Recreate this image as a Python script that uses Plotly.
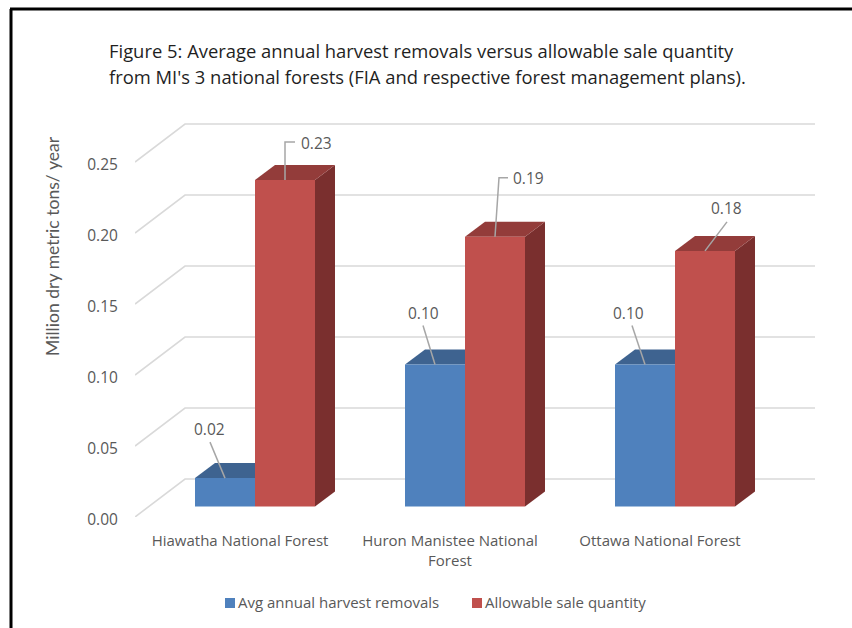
import plotly.graph_objects as go

# ---- data ----
categories = ["Hiawatha National Forest", "Huron Manistee National<br>Forest", "Ottawa National Forest"]
series_names = ["Avg annual harvest removals", "Allowable sale quantity"]
removals = [0.02, 0.10, 0.10]
allowable = [0.23, 0.19, 0.18]
y_ticks = [0.00, 0.05, 0.10, 0.15, 0.20, 0.25]

# ---- geometry (pixels on the 852x628 page) ----
W, H = 852, 628
L, R, T, B = 135, 815, 120, 517      # plot box
PX_CAT = 210.0                        # px per category
PX_UNIT = 1420.0                      # px per unit of value
BAR_W = 60 / PX_CAT
WALL_DX, WALL_DY = 50 / PX_CAT, 38 / PX_UNIT
BAR_SHIFT_X, BAR_BASE = 15 / PX_CAT, 10.5 / PX_UNIT
BAR_DX, BAR_DY = 20 / PX_CAT, 15 / PX_UNIT
x_range = [-0.5, -0.5 + (R - L) / PX_CAT]
y_range = [0, (B - T) / PX_UNIT]

BLUE, BLUE_TOP = "#4f81bd", "#3e6390"
RED, RED_TOP, RED_SIDE = "#c0504d", "#933c3a", "#7a2f2e"
GRID = "#d9d9d9"
TXT = "#595959"
FONT = "Open Sans"

# leader-line bends and label offsets, px relative to the bar's top-centre
leaders = {
    (0, 0): ([(-15, 36)], (-16, 49)),
    (1, 0): ([(0, 38), (10, 38)], (31, 37)),
    (0, 1): ([(-12, 39)], (-12, 52)),
    (1, 1): ([(4, 59), (13, 59)], (33, 59)),
    (0, 2): ([(-13, 39)], (-17, 52)),
    (1, 2): ([(22, 29)], (21, 43)),
}

fig = go.Figure()

def poly(xs, ys, color):
    fig.add_trace(go.Scatter(x=xs, y=ys, mode="lines", fill="toself", fillcolor=color,
                             line=dict(width=0, color=color), hoverinfo="skip", showlegend=False))

# walls
x_left = x_range[0]
x_right = x_left + len(categories)
for t in y_ticks:
    fig.add_trace(go.Scatter(x=[x_left, x_left + WALL_DX, x_right + WALL_DX],
                             y=[t, t + WALL_DY, t + WALL_DY], mode="lines",
                             line=dict(color=GRID, width=1.6), hoverinfo="skip", showlegend=False))

offsets = [-BAR_W / 2 + BAR_SHIFT_X, BAR_W / 2 + BAR_SHIFT_X]
series = [removals, allowable]

# top and side faces, behind the fronts
for s, vals in enumerate(series):
    top = BLUE_TOP if s == 0 else RED_TOP
    for i, v in enumerate(vals):
        cx = i + offsets[s]
        h = BAR_BASE + v
        if s == 1:
            poly([cx + BAR_W / 2, cx + BAR_W / 2 + BAR_DX, cx + BAR_W / 2 + BAR_DX, cx + BAR_W / 2],
                 [BAR_BASE, BAR_BASE + BAR_DY, h + BAR_DY, h], RED_SIDE)
        poly([cx - BAR_W / 2, cx + BAR_W / 2, cx + BAR_W / 2 + BAR_DX, cx - BAR_W / 2 + BAR_DX],
             [h, h, h + BAR_DY, h + BAR_DY], top)

# bar fronts on an overlaid pair of axes so they cover the faces behind them
for s, vals in enumerate(series):
    fig.add_trace(go.Bar(x=[i + offsets[s] for i in range(len(vals))], y=vals, base=BAR_BASE,
                         width=BAR_W, name=series_names[s], marker=dict(color=BLUE if s == 0 else RED, line=dict(width=0)),
                         xaxis="x2", yaxis="y2", showlegend=False))

# leader lines and labels
annotations = []
for (s, i), (bends, lab) in leaders.items():
    v = series[s][i]
    cx = i + offsets[s]
    h = BAR_BASE + v
    xs = [cx] + [cx + dx / PX_CAT for dx, _ in bends]
    ys = [h] + [h + dy / PX_UNIT for _, dy in bends]
    fig.add_trace(go.Scatter(x=xs, y=ys, mode="lines", line=dict(color="#a6a6a6", width=1.5),
                             xaxis="x2", yaxis="y2", hoverinfo="skip", showlegend=False))
    annotations.append(dict(x=cx + lab[0] / PX_CAT, y=h + lab[1] / PX_UNIT, xref="x2", yref="y2",
                            text=f"{v:.2f}", showarrow=False, xanchor="center", yanchor="middle",
                            font=dict(family=FONT, size=15.5, color=TXT)))

def px(x): return (x - L) / (R - L)
def py(y): return (B - y) / (B - T)

# title lines
TITLE1 = "Figure 5: Average annual harvest removals versus allowable sale quantity"
TITLE2 = "from MI's 3 national forests (FIA and respective forest management plans)."
for text, y in ((TITLE1, 50.5), (TITLE2, 77)):
    annotations.append(dict(x=px(107), y=py(y), xref="paper", yref="paper", text=text, showarrow=False,
                            xanchor="left", yanchor="middle", font=dict(family=FONT, size=18.4, color="#1f1f1f")))

# y-axis title
annotations.append(dict(x=px(53), y=py(246), xref="paper", yref="paper", text="Million dry metric tons/ year",
                        textangle=-90, showarrow=False, xanchor="center", yanchor="middle",
                        font=dict(family="Lato", size=17.6, color=TXT)))

# legend
shapes = []
for name, color, sq, tx in ((series_names[0], BLUE, 225, 236), (series_names[1], RED, 472, 483)):
    shapes.append(dict(type="rect", xref="paper", yref="paper", x0=px(sq), x1=px(sq + 10),
                       y0=py(608), y1=py(598), fillcolor=color, line=dict(width=0)))
    annotations.append(dict(x=px(tx), y=py(601.5), xref="paper", yref="paper", text=name, showarrow=False,
                            xanchor="left", yanchor="middle", font=dict(family=FONT, size=15, color=TXT)))

# black frame (left and top)
shapes.append(dict(type="line", xref="paper", yref="paper", x0=px(11), x1=px(11), y0=py(9), y1=py(628),
                   line=dict(color="#000000", width=3)))
shapes.append(dict(type="line", xref="paper", yref="paper", x0=px(10), x1=px(852), y0=py(9), y1=py(9),
                   line=dict(color="#000000", width=3)))

axis_off = dict(visible=False, fixedrange=True)
fig.update_layout(
    width=W, height=H, autosize=False,
    margin=dict(l=L, r=W - R, t=T, b=H - B, pad=0),
    paper_bgcolor="white", plot_bgcolor="white",
    barmode="overlay", showlegend=False,
    font=dict(family=FONT, color=TXT),
    annotations=annotations, shapes=shapes,
    xaxis=dict(range=x_range, tickmode="array", tickvals=list(range(len(categories))), ticktext=categories,
               showgrid=False, zeroline=False, showline=False, ticks="outside", ticklen=10,
               tickcolor="rgba(0,0,0,0)", tickfont=dict(family=FONT, size=15, color=TXT), fixedrange=True),
    yaxis=dict(range=y_range, tickmode="array", tickvals=y_ticks, tickformat=".2f",
               showgrid=False, zeroline=False, showline=False, ticks="outside", ticklen=13,
               ticklabelshift=3,
               tickcolor="rgba(0,0,0,0)", tickfont=dict(family=FONT, size=15.5, color=TXT), fixedrange=True),
    xaxis2=dict(range=x_range, overlaying="x", **axis_off),
    yaxis2=dict(range=y_range, overlaying="y", **axis_off),
)

fig.write_html("out.html", config={"displayModeBar": False},
               post_script="document.body.style.margin='0';document.body.style.overflow='hidden';")
